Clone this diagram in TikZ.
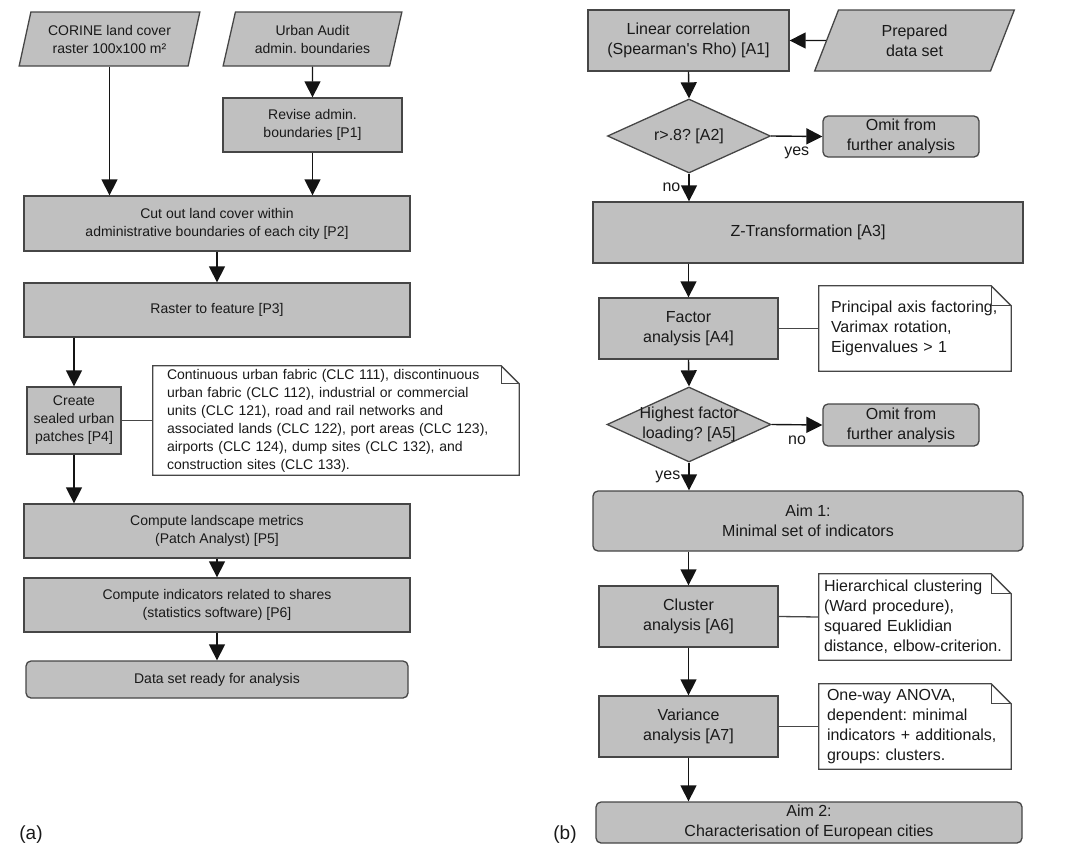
\documentclass[tikz,border=0pt]{standalone}
\usepackage{fontspec}
\setmainfont{Liberation Sans}
\usetikzlibrary{shapes.geometric,arrows.meta,calc}
\definecolor{boxfill}{RGB}{192,192,192}
\definecolor{boxdraw}{RGB}{70,70,70}
\definecolor{arrowc}{RGB}{20,20,20}
\definecolor{txt}{RGB}{25,25,25}
\frenchspacing
\newcommand\drawnote[2]{%
  \draw[link] (#1.south west) -- (#1.north west) -- ($(#1.north east)+(-#2,0)$) -- ($(#1.north east)+(0,#2)$) -- (#1.south east) -- cycle;
  \draw[link] ($(#1.north east)+(-#2,0)$) -- ($(#1.north east)+(-#2,#2)$) -- ($(#1.north east)+(0,#2)$);}
\begin{document}
\begin{tikzpicture}[x=1pt,y=-1pt,
  base/.style={draw=boxdraw, line width=1.3pt, fill=boxfill, text=txt, align=center, inner sep=0pt},
  sm/.style={font=\fontsize{14}{18}\selectfont},
  lg/.style={font=\fontsize{16}{20}\selectfont},
  proc/.style={base, rectangle},
  term/.style={base, rectangle, rounded corners=5pt},
  io/.style={base, trapezium, trapezium left angle=72, trapezium right angle=108, trapezium stretches=true},
  dec/.style={base, diamond},
  notebox/.style={rectangle, text=txt, align=left, inner ysep=0pt},
  arr/.style={draw=arrowc, line width=1.4pt, -{Triangle[length=16pt,width=16pt]}},
  link/.style={draw=boxdraw, line width=1.3pt},
  lbl/.style={text=txt, inner sep=2pt}
]
\useasboundingbox (0,0) rectangle (1080,862);

% ---------- (a) ----------
\node[io, sm, minimum width=181, minimum height=54] (corine) at (109.5,39) {CORINE land cover\\raster 100x100 m²};
\node[io, sm, minimum width=179, minimum height=54] (urban) at (312.5,39) {Urban Audit\\admin. boundaries};
\node[proc, sm, minimum width=179, minimum height=54] (p1) at (312.5,125) {Revise admin.\\boundaries [P1]};
\node[proc, sm, minimum width=386, minimum height=55] (p2) at (217,223.5) {Cut out land cover within\\administrative boundaries of each city [P2]};
\node[proc, sm, minimum width=386, minimum height=54] (p3) at (217,310) {Raster to feature [P3]};
\node[proc, sm, minimum width=94, minimum height=67] (p4) at (74,420.5) {Create\\sealed urban\\patches [P4]};
\node[notebox, sm, minimum width=366, minimum height=109, inner xsep=14pt, text width=338pt] (n4) at (336,420.5)
  {Continuous urban fabric (CLC 111), discontinuous\\urban fabric (CLC 112), industrial or commercial\\units (CLC 121), road and rail networks and\\associated lands (CLC 122), port areas (CLC 123),\\airports (CLC 124), dump sites (CLC 132), and\\construction sites (CLC 133).};
\drawnote{n4}{18}
\node[proc, sm, minimum width=386, minimum height=54] (p5) at (217,531) {Compute landscape metrics\\(Patch Analyst) [P5]};
\node[proc, sm, minimum width=386, minimum height=54] (p6) at (217,605) {Compute indicators related to shares\\(statistics software) [P6]};
\node[term, sm, minimum width=382, minimum height=37] (data) at (217,679.5) {Data set ready for analysis};
\node[lbl, font=\fontsize{19}{22}\selectfont] (la) at (31,835) {(a)};

\draw[arr] (corine.south) -- (corine.south |- p2.north);
\draw[arr] (urban.south) -- (p1.north);
\draw[arr] (p1.south) -- (p1.south |- p2.north);
\draw[arr] (p2.south) -- (p3.north);
\draw[arr] (p4.north |- p3.south) -- (p4.north);
\draw[link] (p4.east) -- (n4.west);
\draw[arr] (p4.south) -- (p4.south |- p5.north);
\draw[arr] (p5.south) -- (p6.north);
\draw[arr] (p6.south) -- (data.north);

% ---------- (b) ----------
\node[proc, lg, minimum width=201, minimum height=61] (a1) at (688.5,40.5) {Linear correlation\\(Spearman\textquotesingle s Rho) [A1]};
\node[io, lg, minimum width=201, minimum height=61] (prep) at (914.5,40.5) {Prepared\\data set};
\node[dec, minimum width=163, minimum height=74] (a2) at (689,136) {};
\node[lg, text=txt, align=center] (a2t) at (a2) {r>.8? [A2]};
\node[term, lg, minimum width=156, minimum height=41] (om1) at (901,136.5) {Omit from\\further analysis};
\node[proc, lg, minimum width=430, minimum height=61] (a3) at (808,232.5) {Z-Transformation [A3]};
\node[proc, lg, minimum width=179, minimum height=61] (a4) at (688.5,328.5) {Factor\\analysis [A4]};
\node[notebox, lg, minimum width=192, minimum height=85, inner xsep=12pt, text width=168pt] (n4r) at (915,328.5)
  {Principal axis factoring,\\Varimax rotation,\\Eigenvalues > 1};
\drawnote{n4r}{20}
\node[dec, minimum width=164, minimum height=75] (a5) at (689,424.5) {};
\node[lg, text=txt, align=center] (a5t) at (a5) {Highest factor\\loading? [A5]};
\node[term, lg, minimum width=156, minimum height=42] (om2) at (901,425) {Omit from\\further analysis};
\node[term, lg, minimum width=430, minimum height=60] (aim1) at (808,521) {Aim 1:\\Minimal set of indicators};
\node[proc, lg, minimum width=179, minimum height=61] (a6) at (688.5,616.5) {Cluster\\analysis [A6]};
\node[notebox, lg, minimum width=192, minimum height=86, inner xsep=5pt, text width=182pt] (n6) at (915,617)
  {Hierarchical clustering\\(Ward procedure),\\squared Euklidian\\distance, elbow-criterion.};
\drawnote{n6}{20}
\node[proc, lg, minimum width=179, minimum height=61] (a7) at (688.5,726.5) {Variance\\analysis [A7]};
\node[notebox, lg, minimum width=192, minimum height=85, inner xsep=8pt, text width=176pt] (n7) at (915,726.5)
  {One-way ANOVA,\\dependent: minimal\\indicators + additionals,\\groups: clusters.};
\drawnote{n7}{20}
\node[term, lg, minimum width=426, minimum height=41] (aim2) at (809,822.5) {Aim 2:\\Characterisation of European cities};
\node[lbl, font=\fontsize{19}{22}\selectfont] (lb) at (565,835) {(b)};

\draw[arr] (prep) -- (a1);
\draw[arr] (a1.south) -- (a2.north);
\draw[arr] (a2.east) -- (om1.west) node[lbl, lg, midway, below=8pt] (y1) {yes};
\draw[arr] (a2.south) -- (a2.south |- a3.north) node[lbl, lg, midway, left=6pt] (n1) {no};
\draw[arr] (a4.north |- a3.south) -- (a4.north);
\draw[link] (a4.east) -- (n4r.west);
\draw[arr] (a4.south) -- (a5.north);
\draw[arr] (a5.east) -- (om2.west) node[lbl, lg, midway, below=8pt] (n2) {no};
\draw[arr] (a5.south) -- (a5.south |- aim1.north) node[lbl, lg, midway, left=6pt] (y2) {yes};
\draw[arr] (a6.north |- aim1.south) -- (a6.north);
\draw[link] (a6.east) -- (n6.west);
\draw[arr] (a6.south) -- (a7.north);
\draw[link] (a7.east) -- (n7.west);
\draw[arr] (a7.south) -- (a7.south |- aim2.north);
\end{tikzpicture}
\end{document}
